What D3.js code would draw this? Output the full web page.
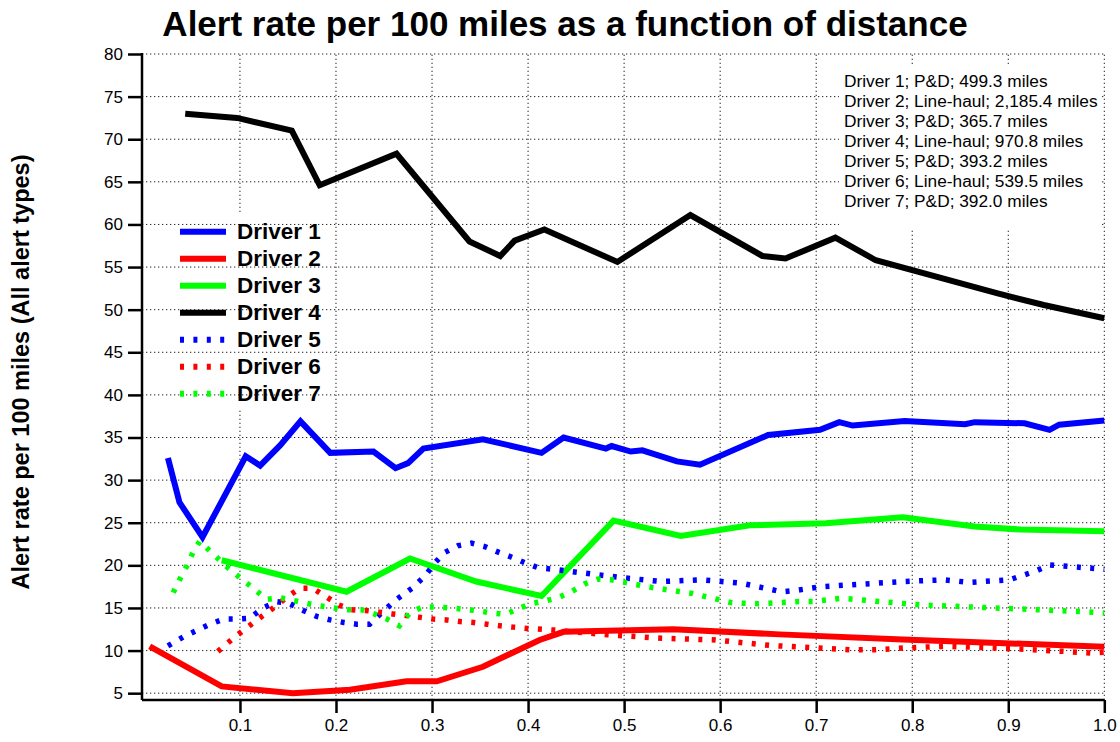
<!DOCTYPE html>
<html>
<head>
<meta charset="utf-8">
<script src="https://cdn.jsdelivr.net/npm/d3@7"></script>
<style>
  html, body { margin: 0; padding: 0; background: #fff; }
  svg { display: block; font-family: "Liberation Sans", Arial, sans-serif; }
</style>
</head>
<body>
<svg id="chart" width="1120" height="742"></svg>
<script>
// ---------- DATA ----------
const xTicks = [0.1, 0.2, 0.3, 0.4, 0.5, 0.6, 0.7, 0.8, 0.9, 1.0];
const yTicks = [5, 10, 15, 20, 25, 30, 35, 40, 45, 50, 55, 60, 65, 70, 75, 80];

const driverNames = ["Driver 1", "Driver 2", "Driver 3", "Driver 4", "Driver 5", "Driver 6", "Driver 7"];
const driverColors = ["#0000ff", "#ff0000", "#00ff00", "#000000", "#0000ff", "#ff0000", "#00ff00"];
const driverDotted = [false, false, false, false, true, true, true];
const annotations = [
  "Driver 1; P&D; 499.3 miles",
  "Driver 2; Line-haul; 2,185.4 miles",
  "Driver 3; P&D; 365.7 miles",
  "Driver 4; Line-haul; 970.8 miles",
  "Driver 5; P&D; 393.2 miles",
  "Driver 6; Line-haul; 539.5 miles",
  "Driver 7; P&D; 392.0 miles"
];

const driver1 = [[0.025,32.6],[0.037,27.4],[0.061,23.3],[0.106,32.8],[0.121,31.7],[0.142,34.1],[0.163,36.9],
  [0.194,33.2],[0.239,33.35],[0.262,31.4],[0.275,32.0],[0.291,33.7],[0.353,34.8],[0.414,33.2],[0.437,35.0],
  [0.481,33.7],[0.487,34.0],[0.507,33.35],[0.519,33.5],[0.555,32.2],[0.579,31.8],[0.650,35.3],[0.704,35.9],
  [0.724,36.8],[0.738,36.4],[0.792,36.95],[0.855,36.55],[0.865,36.8],[0.917,36.67],[0.943,35.9],[0.953,36.5],[1.0,37.0]];
const driver2 = [[0.006,10.5],[0.081,5.8],[0.155,5.0],[0.2145,5.4],[0.2735,6.4],[0.305,6.4],[0.353,8.1],
  [0.412,11.25],[0.437,12.2],[0.551,12.5],[0.662,11.9],[0.790,11.3],[1.0,10.45]];
const driver3 = [[0.081,20.6],[0.211,16.9],[0.277,20.8],[0.346,18.1],[0.414,16.4],[0.489,25.25],[0.559,23.45],
  [0.631,24.7],[0.710,24.95],[0.790,25.65],[0.865,24.55],[0.913,24.2],[1.0,24.0]];
const driver4 = [[0.043,73.0],[0.097,72.5],[0.154,71.0],[0.183,64.6],[0.263,68.3],[0.339,58.0],[0.371,56.3],
  [0.386,58.1],[0.417,59.4],[0.493,55.6],[0.569,61.1],[0.644,56.3],[0.668,56.0],[0.720,58.45],[0.762,55.8],
  [0.889,51.9],[0.937,50.55],[1.0,49.0]];
const driver5 = [[0.025,10.55],[0.041,11.6],[0.055,12.35],[0.069,13.1],[0.083,13.7],[0.0965,13.7],[0.110,13.8],
  [0.124,15.0],[0.138,15.75],[0.152,15.5],[0.166,14.7],[0.180,14.0],[0.194,13.6],[0.208,13.3],[0.2215,13.1],
  [0.235,13.1],[0.249,14.6],[0.263,16.0],[0.279,17.3],[0.293,18.8],[0.303,20.3],[0.313,21.5],[0.327,22.3],
  [0.341,22.6],[0.355,22.2],[0.369,21.55],[0.383,20.95],[0.397,20.3],[0.411,19.7],[0.426,19.55],[0.454,19.15],
  [0.497,18.56],[0.539,18.1],[0.581,18.3],[0.6225,17.9],[0.664,16.9],[0.678,17.05],[0.706,17.5],[0.748,17.8],
  [0.790,18.1],[0.8335,18.3],[0.859,18.0],[0.887,18.2],[0.901,18.3],[0.929,19.35],[0.943,20.05],[0.971,19.8],[1.0,19.55]];
const driver6 = [[0.077,9.9],[0.091,11.25],[0.105,12.5],[0.119,13.7],[0.133,14.85],[0.147,16.1],[0.162,17.3],
  [0.176,17.3],[0.190,16.3],[0.203,15.35],[0.216,14.8],[0.231,14.7],[0.245,14.5],[0.259,14.3],[0.2735,14.1],
  [0.287,13.9],[0.301,13.7],[0.315,13.6],[0.329,13.4],[0.343,13.3],[0.357,13.1],[0.371,12.9],[0.385,12.75],
  [0.399,12.6],[0.427,12.4],[0.483,11.85],[0.539,11.45],[0.595,11.25],[0.652,10.6],[0.694,10.35],[0.736,10.1],
  [0.762,10.1],[0.792,10.3],[0.834,10.5],[0.875,10.35],[0.917,10.15],[0.959,9.9],[0.987,9.7],[1.0,9.8]];
const driver7 = [[0.0305,16.8],[0.0375,18.4],[0.0445,19.9],[0.051,21.5],[0.058,22.8],[0.072,21.35],[0.0855,19.9],
  [0.0995,18.6],[0.114,17.3],[0.128,16.0],[0.142,16.2],[0.155,15.9],[0.169,15.55],[0.183,15.25],[0.198,15.0],
  [0.212,14.8],[0.226,14.8],[0.240,14.3],[0.253,13.7],[0.266,12.9],[0.277,14.45],[0.291,15.15],[0.305,15.1],
  [0.319,15.0],[0.3325,14.85],[0.346,14.7],[0.360,14.45],[0.376,14.25],[0.389,14.85],[0.4025,15.5],[0.4165,15.8],
  [0.431,16.2],[0.445,16.9],[0.4585,17.8],[0.473,18.4],[0.487,18.3],[0.501,18.0],[0.515,17.7],[0.529,17.4],
  [0.571,16.7],[0.6125,15.6],[0.640,15.5],[0.682,15.75],[0.698,15.75],[0.726,16.15],[0.766,15.75],[0.810,15.35],
  [0.851,15.16],[0.893,14.97],[0.935,14.77],[0.977,14.57],[1.0,14.4]];

const driverData = [driver1, driver2, driver3, driver4, driver5, driver6, driver7];

// ---------- LAYOUT ----------
const svg = d3.select("#chart");
const x = d3.scaleLinear().domain([-0.002, 1.0]).range([142, 1104.3]);
const y = d3.scaleLinear().domain([4.2, 80]).range([700, 54]);

const gridColor = "#222";
const gridDash = "1.3,2.7";

// vertical grid lines
const vGrid = svg.append("g");
xTicks.forEach(t => {
  vGrid.append("line")
    .attr("x1", x(t)).attr("x2", x(t)).attr("y1", y(4.2)).attr("y2", y(80))
    .attr("stroke", gridColor).attr("stroke-width", 1).attr("stroke-dasharray", gridDash);
});

// legend background (hides vertical grid behind legend)
svg.append("rect").attr("x", 172).attr("y", 213).attr("width", 160).attr("height", 195).attr("fill", "#fff");

// horizontal grid lines
const hGrid = svg.append("g");
yTicks.forEach(t => {
  hGrid.append("line")
    .attr("x1", x(-0.002)).attr("x2", x(1.0)).attr("y1", y(t)).attr("y2", y(t))
    .attr("stroke", gridColor).attr("stroke-width", 1).attr("stroke-dasharray", gridDash);
});

// annotation box
svg.append("rect").attr("x", 839).attr("y", 64).attr("width", 262).attr("height", 164).attr("fill", "#fff");
const ann = svg.append("g");
annotations.forEach((t, i) => {
  ann.append("text").attr("x", 844).attr("y", 86.5 + i * 20)
    .attr("font-size", "17.3px").attr("fill", "#000").text(t);
});

// data lines
const line = d3.line().x(d => x(d[0])).y(d => y(d[1]));
driverData.forEach((data, i) => {
  svg.append("path")
    .datum(data)
    .attr("d", line)
    .attr("fill", "none")
    .attr("stroke", driverColors[i])
    .attr("stroke-width", driverDotted[i] ? 5.5 : 6)
    .attr("stroke-linejoin", "miter")
    .attr("stroke-dasharray", driverDotted[i] ? "4,9.4" : null);
});

// axes
const yAxis = svg.append("g").attr("transform", "translate(142,0)")
  .call(d3.axisLeft(y).tickValues(yTicks).tickSize(14).tickPadding(5).tickFormat(d3.format("d")));
const xAxis = svg.append("g").attr("transform", "translate(0,700)")
  .call(d3.axisBottom(x).tickValues(xTicks).tickSize(13).tickPadding(6).tickFormat(d3.format(".1f")));
[yAxis, xAxis].forEach(a => {
  a.select(".domain").attr("stroke", "#000").attr("stroke-width", 2.5);
  a.selectAll(".tick line").attr("stroke", "#000").attr("stroke-width", 2.5);
  a.selectAll(".tick text").attr("font-size", "17px").attr("fill", "#000")
    .attr("font-family", "Liberation Sans, Arial, sans-serif");
});
yAxis.select(".domain").attr("d", "M0,53V700");
xAxis.select(".domain").attr("d", "M142,0H1104.3");

// legend
const legend = svg.append("g");
driverNames.forEach((name, i) => {
  const cy = 231.7 + i * 27;
  legend.append("line")
    .attr("x1", 180).attr("x2", 226).attr("y1", cy).attr("y2", cy)
    .attr("stroke", driverColors[i]).attr("stroke-width", 6)
    .attr("stroke-dasharray", driverDotted[i] ? "4,9.4" : null);
  legend.append("text").attr("x", 237).attr("y", cy + 7.5)
    .attr("font-size", "22.5px").attr("font-weight", "bold").attr("fill", "#000").text(name);
});

// title
svg.append("text").attr("x", 565).attr("y", 36).attr("text-anchor", "middle")
  .attr("font-size", "35px").attr("font-weight", "bold").attr("fill", "#000")
  .text("Alert rate per 100 miles as a function of distance");

// y-axis label
svg.append("text")
  .attr("transform", "translate(29,372) rotate(-90)")
  .attr("text-anchor", "middle")
  .attr("font-size", "23.5px").attr("font-weight", "bold").attr("fill", "#000")
  .text("Alert rate per 100 miles (All alert types)");
</script>
</body>
</html>
